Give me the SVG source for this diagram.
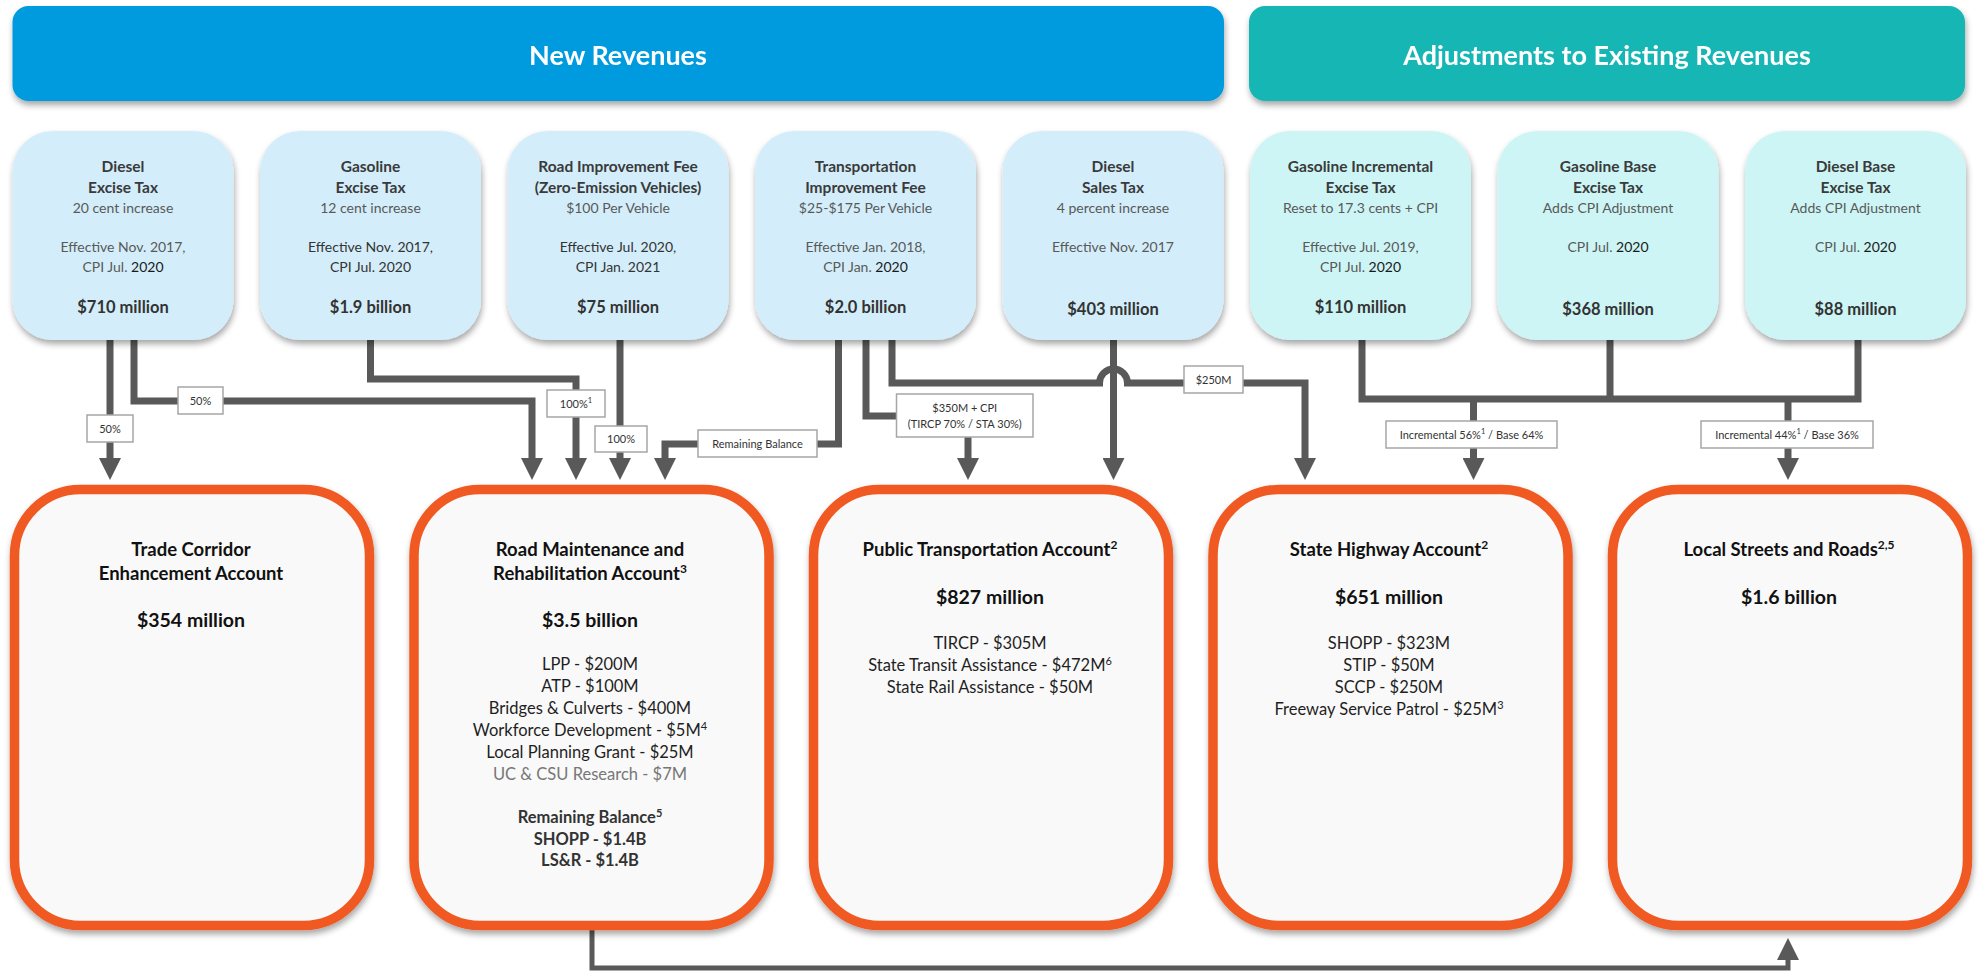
<svg xmlns="http://www.w3.org/2000/svg" width="1979" height="973" viewBox="0 0 1979 973">
<defs>
<filter id="sh" x="-10%" y="-10%" width="120%" height="125%">
<feDropShadow dx="1" dy="4" stdDeviation="3" flood-color="#000" flood-opacity="0.35"/>
</filter>
<marker id="ah" markerUnits="userSpaceOnUse" markerWidth="22" markerHeight="22" viewBox="0 0 22 22" refX="0" refY="11" orient="auto">
<path d="M0,0 L22,11 L0,22 z" fill="#595959"/>
</marker>
<marker id="ah2" markerUnits="userSpaceOnUse" markerWidth="22" markerHeight="22" viewBox="0 0 22 22" refX="0" refY="11" orient="auto">
<path d="M0,0 L22,11 L0,22 z" fill="#595959"/>
</marker>
</defs>
<style>
text{font-family:Lato,"Liberation Sans",sans-serif;text-anchor:middle}
.hdr1{fill:#009ADE}
.hdr2{fill:#19B6B4}
.src{fill:#D3EEFA}
.src2{fill:#CDF5F5}
.acc{fill:#F9F9F9;stroke:#F05A22;stroke-width:9.5}
.h{font-size:27px;font-weight:700;fill:#fff}
.st{font-size:15.5px;font-weight:700;fill:#3a3a3a}
.ss{font-size:14px;fill:#595959}
.sd{fill:#333}
.dk{fill:#1a1a1a}
.sa{font-size:16.5px;font-weight:700;fill:#333}
.at{font-size:18.5px;font-weight:700;fill:#111}
.aa{font-size:19.5px;font-weight:700;fill:#111}
.ab{font-size:16.5px;fill:#1f1f1f}
.gr{fill:#777}
.bb{font-weight:700;fill:#333}
.c{fill:none;stroke:#595959;stroke-width:7}
.c2{fill:none;stroke:#595959;stroke-width:5}
.lbx{fill:#fff;stroke:#A6A6A6;stroke-width:1.5}
.lb{font-size:11px;fill:#333}
</style>

<g id="hdr-new" filter="url(#sh)">
<rect class="hdr1" x="12.5" y="6" width="1211.5" height="95" rx="16"/>
<text class="h" x="618" y="65">New Revenues</text>
</g>
<g id="hdr-adj" filter="url(#sh)">
<rect class="hdr2" x="1249" y="6" width="716" height="95" rx="16"/>
<text class="h" x="1607" y="65">Adjustments to Existing Revenues</text>
</g>

<g id="connectors">
<path class="c" d="M110,340 V458" marker-end="url(#ah)"/>
<path class="c" d="M134,340 V401 H532 V458" marker-end="url(#ah)"/>
<path class="c" d="M370.5,340 V379 H576 V458" marker-end="url(#ah)"/>
<path class="c" d="M620,340 V458" marker-end="url(#ah)"/>
<path class="c" d="M838.5,340 V444 H665 V458" marker-end="url(#ah)"/>
<path class="c" d="M866,340 V416 H968 V458" marker-end="url(#ah)"/>
<path class="c" d="M892,340 V383 H1099.5 A14,14 0 0 1 1127.5,383 H1305 V458" marker-end="url(#ah)"/>
<path class="c" d="M1113.5,340 V458" marker-end="url(#ah)"/>
<path class="c" d="M1362,340 V399 H1858 V340"/>
<path class="c" d="M1610,340 V399"/>
<path class="c" d="M1473.5,399 V458" marker-end="url(#ah)"/>
<path class="c" d="M1788,399 V458" marker-end="url(#ah)"/>
<path class="c2" d="M592,930 V968 H1788 V960" marker-end="url(#ah2)"/>
<rect class="lbx" x="87" y="415" width="46" height="27"/>
<text class="lb" x="110" y="432.5">50%</text>
<rect class="lbx" x="178" y="387" width="45" height="27"/>
<text class="lb" x="200.5" y="404.5">50%</text>
<rect class="lbx" x="547" y="390" width="58" height="27"/>
<text class="lb" x="576" y="407.5">100%<tspan font-size="7.5" dy="-5">1</tspan></text>
<rect class="lbx" x="595" y="426" width="52" height="26"/>
<text class="lb" x="621" y="443">100%</text>
<rect class="lbx" x="698" y="430" width="119" height="27"/>
<text class="lb" x="757.5" y="447.5">Remaining Balance</text>
<rect class="lbx" x="896.5" y="394" width="136.5" height="43"/>
<text class="lb" x="964.75" y="412">$350M + CPI</text>
<text class="lb" x="964.75" y="428">(TIRCP 70% / STA 30%)</text>
<rect class="lbx" x="1184" y="366" width="59" height="27"/>
<text class="lb" x="1213.5" y="383.5">$250M</text>
<rect class="lbx" x="1386" y="421" width="171" height="27"/>
<text class="lb" x="1471.5" y="438.5">Incremental 56%<tspan font-size="7.5" dy="-5">1</tspan><tspan dy="5"> / Base 64%</tspan></text>
<rect class="lbx" x="1701" y="421" width="172" height="27"/>
<text class="lb" x="1787" y="438.5">Incremental 44%<tspan font-size="7.5" dy="-5">1</tspan><tspan dy="5"> / Base 36%</tspan></text>
</g>

<g id="src-diesel-excise">
<rect class="src" x="12.5" y="131" width="221" height="209" rx="40" filter="url(#sh)"/>
<text class="st" x="123" y="172">Diesel</text>
<text class="st" x="123" y="193">Excise Tax</text>
<text class="ss" x="123" y="213">20 cent increase</text>
<text class="ss" x="123" y="252">Effective Nov. 2017,</text>
<text class="ss" x="123" y="272">CPI Jul. <tspan class="dk">2020</tspan></text>
<text class="sa" x="123" y="313">$710 million</text>
</g>
<g id="src-gasoline-excise">
<rect class="src" x="260" y="131" width="221" height="209" rx="40" filter="url(#sh)"/>
<text class="st" x="370.5" y="172">Gasoline</text>
<text class="st" x="370.5" y="193">Excise Tax</text>
<text class="ss" x="370.5" y="213">12 cent increase</text>
<text class="ss sd" x="370.5" y="252">Effective Nov. 2017,</text>
<text class="ss sd" x="370.5" y="272">CPI Jul. 2020</text>
<text class="sa" x="370.5" y="313">$1.9 billion</text>
</g>
<g id="src-road-improvement">
<rect class="src" x="507.5" y="131" width="221" height="209" rx="40" filter="url(#sh)"/>
<text class="st" x="618" y="172">Road Improvement Fee</text>
<text class="st" x="618" y="193">(Zero-Emission Vehicles)</text>
<text class="ss" x="618" y="213">$100 Per Vehicle</text>
<text class="ss sd" x="618" y="252">Effective Jul. 2020,</text>
<text class="ss sd" x="618" y="272">CPI Jan. 2021</text>
<text class="sa" x="618" y="313">$75 million</text>
</g>
<g id="src-transportation-fee">
<rect class="src" x="755" y="131" width="221" height="209" rx="40" filter="url(#sh)"/>
<text class="st" x="865.5" y="172">Transportation</text>
<text class="st" x="865.5" y="193">Improvement Fee</text>
<text class="ss" x="865.5" y="213">$25-$175 Per Vehicle</text>
<text class="ss" x="865.5" y="252">Effective Jan. 2018,</text>
<text class="ss" x="865.5" y="272">CPI Jan. <tspan class="dk">2020</tspan></text>
<text class="sa" x="865.5" y="313">$2.0 billion</text>
</g>
<g id="src-diesel-sales">
<rect class="src" x="1002.5" y="131" width="221" height="209" rx="40" filter="url(#sh)"/>
<text class="st" x="1113" y="172">Diesel</text>
<text class="st" x="1113" y="193">Sales Tax</text>
<text class="ss" x="1113" y="213">4 percent increase</text>
<text class="ss" x="1113" y="252">Effective Nov. 2017</text>
<text class="sa" x="1113" y="315">$403 million</text>
</g>
<g id="src-gasoline-incremental">
<rect class="src2" x="1250" y="131" width="221" height="209" rx="40" filter="url(#sh)"/>
<text class="st" x="1360.5" y="172">Gasoline Incremental</text>
<text class="st" x="1360.5" y="193">Excise Tax</text>
<text class="ss" x="1360.5" y="213">Reset to 17.3 cents + CPI</text>
<text class="ss" x="1360.5" y="252">Effective Jul. 2019,</text>
<text class="ss" x="1360.5" y="272">CPI Jul. <tspan class="dk">2020</tspan></text>
<text class="sa" x="1360.5" y="313">$110 million</text>
</g>
<g id="src-gasoline-base">
<rect class="src2" x="1497.5" y="131" width="221" height="209" rx="40" filter="url(#sh)"/>
<text class="st" x="1608" y="172">Gasoline Base</text>
<text class="st" x="1608" y="193">Excise Tax</text>
<text class="ss" x="1608" y="213">Adds CPI Adjustment</text>
<text class="ss" x="1608" y="252">CPI Jul. <tspan class="dk">2020</tspan></text>
<text class="sa" x="1608" y="315">$368 million</text>
</g>
<g id="src-diesel-base">
<rect class="src2" x="1745" y="131" width="221" height="209" rx="40" filter="url(#sh)"/>
<text class="st" x="1855.5" y="172">Diesel Base</text>
<text class="st" x="1855.5" y="193">Excise Tax</text>
<text class="ss" x="1855.5" y="213">Adds CPI Adjustment</text>
<text class="ss" x="1855.5" y="252">CPI Jul. <tspan class="dk">2020</tspan></text>
<text class="sa" x="1855.5" y="315">$88 million</text>
</g>

<g id="acc-trade-corridor">
<rect class="acc" x="14.5" y="489.5" width="355" height="436" rx="66" filter="url(#sh)"/>
<text class="at" x="191" y="556">Trade Corridor</text>
<text class="at" x="191" y="580">Enhancement Account</text>
<text class="aa" x="191" y="627">$354 million</text>
</g>
<g id="acc-road-maintenance">
<rect class="acc" x="414" y="489.5" width="355" height="436" rx="66" filter="url(#sh)"/>
<text class="at" x="590" y="556">Road Maintenance and</text>
<text class="at" x="590" y="580">Rehabilitation Account<tspan font-size="12" dy="-7">3</tspan></text>
<text class="aa" x="590" y="627">$3.5 billion</text>
<text class="ab" x="590" y="670">LPP - $200M</text>
<text class="ab" x="590" y="692">ATP - $100M</text>
<text class="ab" x="590" y="714">Bridges &amp; Culverts - $400M</text>
<text class="ab" x="590" y="736">Workforce Development - $5M<tspan font-size="11" dy="-6">4</tspan></text>
<text class="ab" x="590" y="758">Local Planning Grant - $25M</text>
<text class="ab gr" x="590" y="780">UC &amp; CSU Research - $7M</text>
<text class="ab bb" x="590" y="823">Remaining Balance<tspan font-size="11" dy="-6">5</tspan></text>
<text class="ab bb" x="590" y="844.5">SHOPP - $1.4B</text>
<text class="ab bb" x="590" y="866">LS&amp;R - $1.4B</text>
</g>
<g id="acc-public-transportation">
<rect class="acc" x="813.5" y="489.5" width="355" height="436" rx="66" filter="url(#sh)"/>
<text class="at" x="990" y="556">Public Transportation Account<tspan font-size="12" dy="-7">2</tspan></text>
<text class="aa" x="990" y="604">$827 million</text>
<text class="ab" x="990" y="649">TIRCP - $305M</text>
<text class="ab" x="990" y="671">State Transit Assistance - $472M<tspan font-size="11" dy="-6">6</tspan></text>
<text class="ab" x="990" y="693">State Rail Assistance - $50M</text>
</g>
<g id="acc-state-highway">
<rect class="acc" x="1213" y="489.5" width="355" height="436" rx="66" filter="url(#sh)"/>
<text class="at" x="1389" y="556">State Highway Account<tspan font-size="12" dy="-7">2</tspan></text>
<text class="aa" x="1389" y="604">$651 million</text>
<text class="ab" x="1389" y="649">SHOPP - $323M</text>
<text class="ab" x="1389" y="671">STIP - $50M</text>
<text class="ab" x="1389" y="693">SCCP - $250M</text>
<text class="ab" x="1389" y="715">Freeway Service Patrol - $25M<tspan font-size="11" dy="-6">3</tspan></text>
</g>
<g id="acc-local-streets">
<rect class="acc" x="1612.5" y="489.5" width="355" height="436" rx="66" filter="url(#sh)"/>
<text class="at" x="1789" y="556">Local Streets and Roads<tspan font-size="12" dy="-7">2,5</tspan></text>
<text class="aa" x="1789" y="604">$1.6 billion</text>
</g>
</svg>
